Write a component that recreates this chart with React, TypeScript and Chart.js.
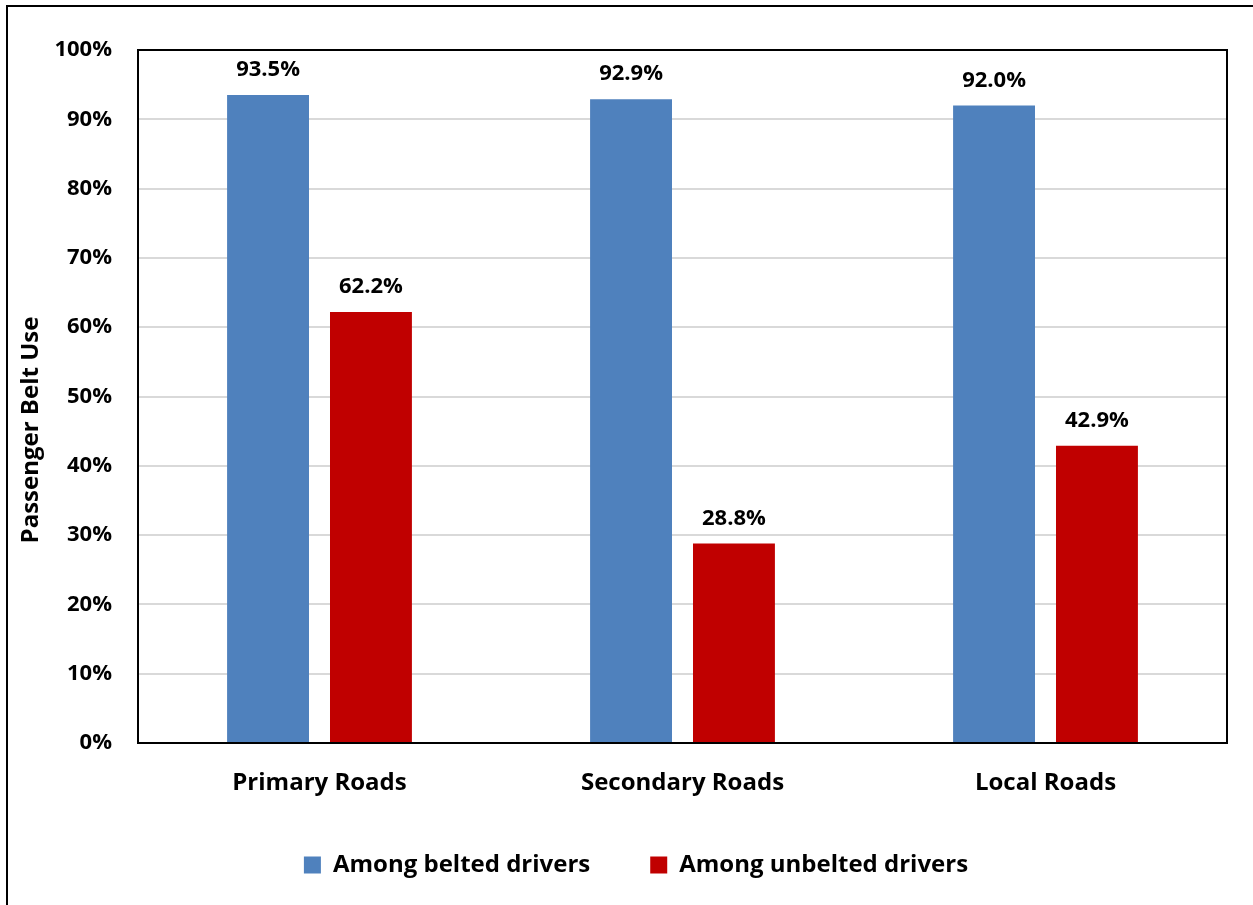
import React, { useEffect, useRef } from "react";
import { Chart, registerables } from "chart.js";

Chart.register(...registerables);

const categories = ["Primary Roads", "Secondary Roads", "Local Roads"];
const seriesNames = ["Among belted drivers", "Among unbelted drivers"];
const beltedValues = [93.5, 92.9, 92.0];
const unbeltedValues = [62.2, 28.8, 42.9];
const yTicks = [0, 10, 20, 30, 40, 50, 60, 70, 80, 90, 100];
const yTitle = "Passenger Belt Use";

const FONT = "'Open Sans', 'Noto Sans', sans-serif";
const LEGEND_GAP = 60;

const framePlugin = {
  id: "frame",
  beforeLayout(chart: any) {
    const lg = chart.legend;
    if (lg && !lg.__patched) {
      const orig = lg.fit.bind(lg);
      lg.fit = function () {
        orig();
        this.height = 90;
      };
      lg.__patched = true;
    }
  },
  afterLayout(chart: any) {
    const lg = chart.legend;
    if (lg) {
      lg.top -= 6;
      lg.bottom -= 6;
    }
  },
  beforeDraw(chart: any) {
    const ctx = chart.ctx;
    ctx.save();
    ctx.fillStyle = "#ffffff";
    ctx.fillRect(0, 0, chart.width, chart.height);
    ctx.strokeStyle = "#000000";
    ctx.lineWidth = 2;
    ctx.beginPath();
    ctx.moveTo(7, chart.height);
    ctx.lineTo(7, 6);
    ctx.lineTo(chart.width, 6);
    ctx.stroke();
    ctx.translate(31, 430);
    ctx.rotate(-Math.PI / 2);
    ctx.font = `bold 24px ${FONT}`;
    ctx.fillStyle = "#000000";
    ctx.textAlign = "center";
    ctx.textBaseline = "middle";
    ctx.fillText(yTitle, 0, 0);
    ctx.restore();
  },
  afterDatasetsDraw(chart: any) {
    const ctx = chart.ctx;
    const a = chart.chartArea;
    ctx.save();
    ctx.strokeStyle = "#000000";
    ctx.lineWidth = 2;
    ctx.strokeRect(a.left, a.top, a.right - a.left, a.bottom - a.top);
    ctx.font = `bold 22px ${FONT}`;
    ctx.fillStyle = "#000000";
    ctx.textAlign = "center";
    ctx.textBaseline = "middle";
    chart.data.datasets.forEach((ds: any, i: number) => {
      const meta = chart.getDatasetMeta(i);
      meta.data.forEach((bar: any, j: number) => {
        ctx.fillText(ds.data[j].toFixed(1) + "%", bar.x, bar.y - 25);
      });
    });
    ctx.restore();
  },
};

export default function App() {
  const ref = useRef<HTMLCanvasElement | null>(null);
  useEffect(() => {
    const chart = new Chart(ref.current as HTMLCanvasElement, {
      type: "bar",
      data: {
        labels: categories,
        datasets: [
          {
            label: seriesNames[0],
            data: beltedValues,
            backgroundColor: "#4F81BD",
            categoryPercentage: 0.567,
            barPercentage: 0.796,
          },
          {
            label: seriesNames[1],
            data: unbeltedValues,
            backgroundColor: "#C00000",
            categoryPercentage: 0.567,
            barPercentage: 0.796,
          },
        ],
      },
      options: {
        animation: false,
        responsive: false,
        layout: { padding: { top: 50, right: 26, left: 45, bottom: 16 } },
        plugins: {
          legend: {
            position: "bottom",
            labels: {
              font: { family: FONT, size: 24, weight: "bold" },
              color: "#000000",
              boxWidth: 17,
              boxHeight: 17,
              padding: LEGEND_GAP,
            },
          },
          tooltip: { enabled: false },
        },
        scales: {
          x: {
            grid: { display: false },
            border: { color: "#000000", width: 2 },
            ticks: {
              font: { family: FONT, size: 24, weight: "bold" },
              color: "#000000",
              padding: 18,
            },
            afterFit(scale: any) {
              scale.height = 56;
            },
          },
          y: {
            min: 0,
            max: 100,
            afterBuildTicks(scale: any) {
              scale.ticks = yTicks.map((v) => ({ value: v }));
            },
            grid: { color: "#D9D9D9", lineWidth: 2, drawTicks: false },
            border: { color: "#000000", width: 2 },
            ticks: {
              font: { family: FONT, size: 22, weight: "bold" },
              color: "#000000",
              padding: 26,
              callback: (v: any) => v + "%",
            },
            afterFit(scale: any) {
              scale.width = 93;
            },
          },
        },
      },
      plugins: [framePlugin],
    });
    return () => chart.destroy();
  }, []);
  return (
    <div style={{ position: "fixed", left: 0, top: 0, width: 1253, height: 905 }}>
      <canvas ref={ref} width={1253} height={905} />
    </div>
  );
}
